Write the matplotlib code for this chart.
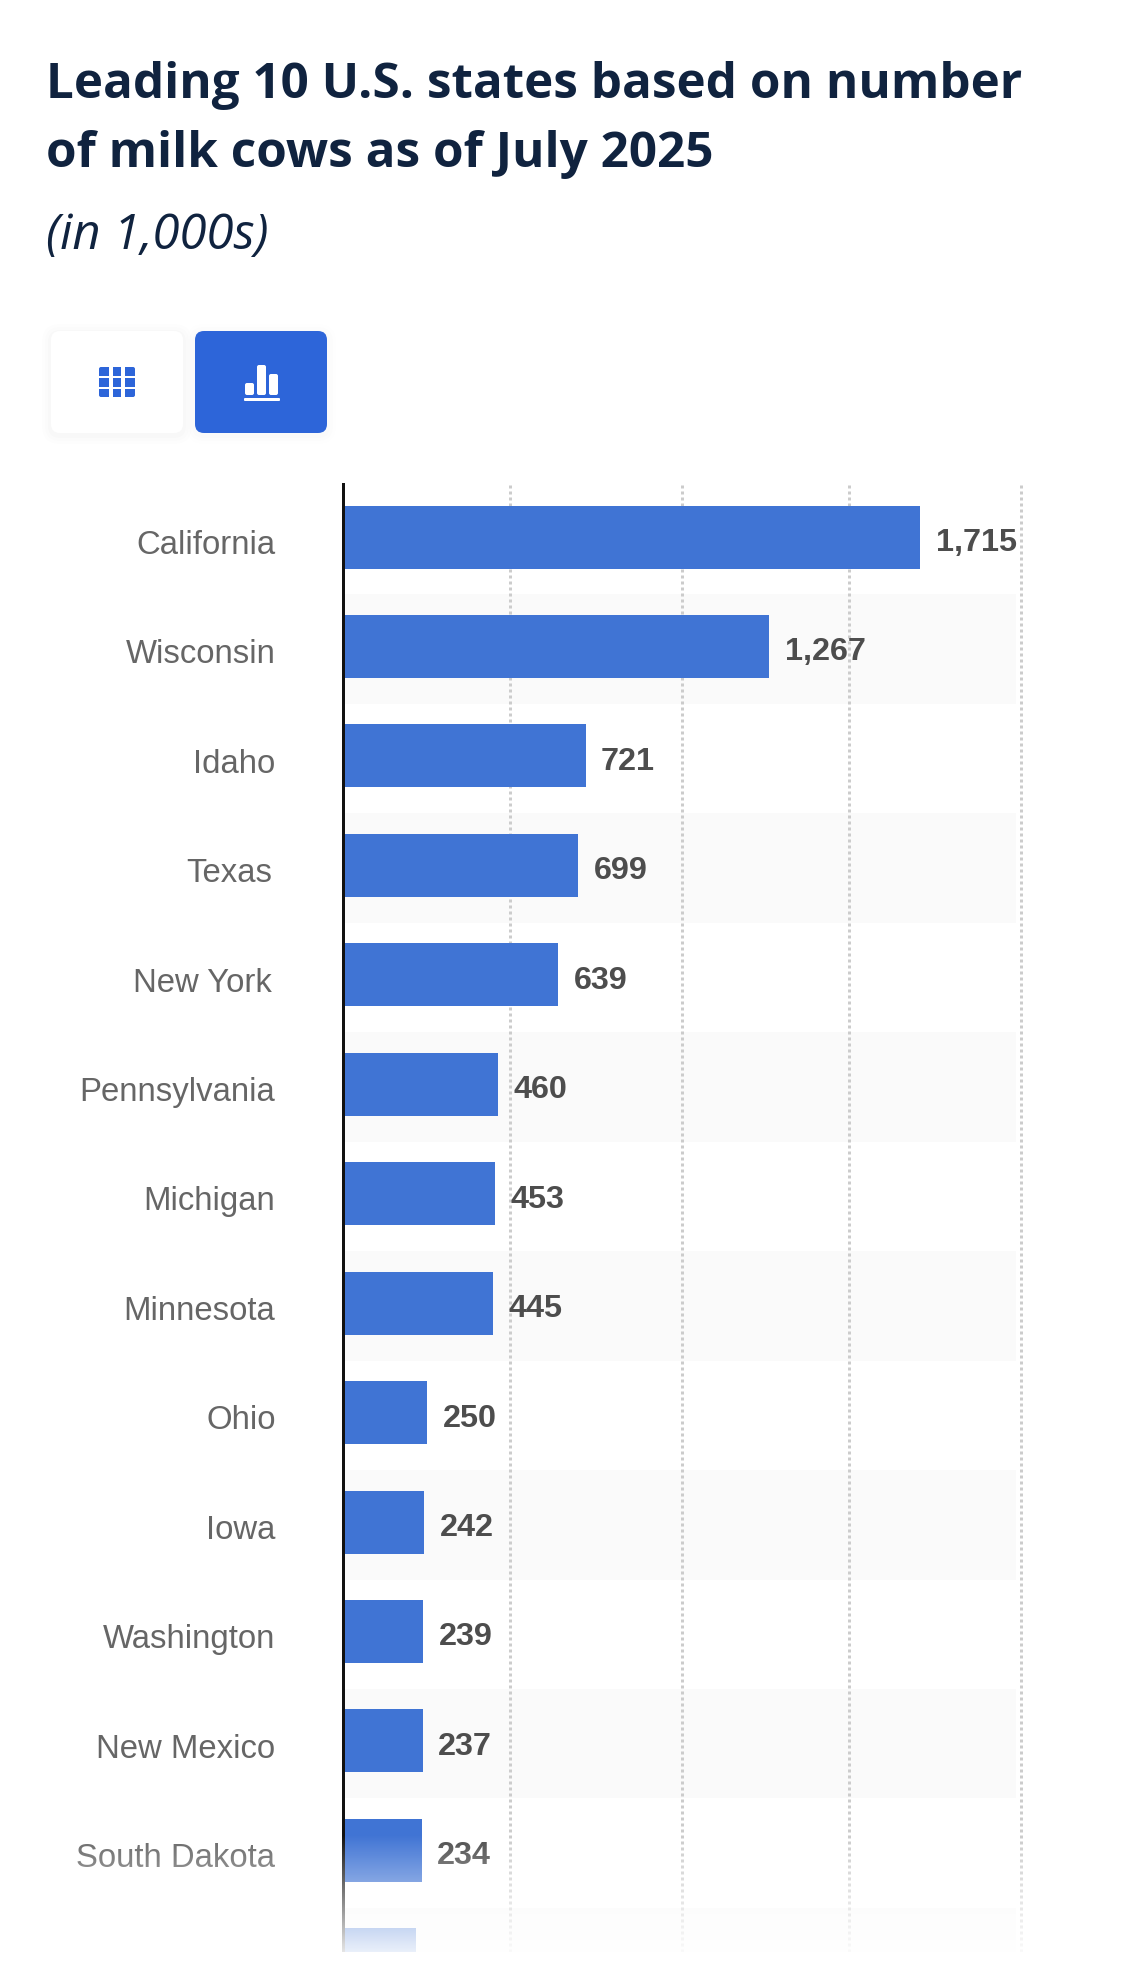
import matplotlib
matplotlib.use('Agg')
import matplotlib.pyplot as plt
import numpy as np
from matplotlib.patches import FancyBboxPatch, Rectangle

figW, figH = 1125, 1974

states = ['California', 'Wisconsin', 'Idaho', 'Texas', 'New York', 'Pennsylvania', 'Michigan',
          'Minnesota', 'Ohio', 'Iowa', 'Washington', 'New Mexico', 'South Dakota', '']
cows = [1715, 1267, 721, 699, 639, 460, 453, 445, 250, 242, 239, 237, 234, 216]
valueLabels = ['1,715', '1,267', '721', '699', '639', '460', '453', '445', '250', '242', '239', '237', '234', '216']
gridValues = [496, 1007, 1504, 2015]

barColor = '#4074d4'
buttonBlue = '#2d65d9'
pxPt = 72 / 100  # one pixel in points at dpi 100

plt.rcParams['font.family'] = ['Liberation Sans', 'DejaVu Sans']

fig = plt.figure(figsize=(figW / 100, figH / 100), dpi=100, facecolor='white')

# plot area, pixel box 343..1021 / 485..1953
rowH = 109.45
firstRow = 538
pxPerUnit = 0.3365
ax = fig.add_axes([343 / figW, 1 - 1953 / figH, 678 / figW, (1953 - 485) / figH])
ax.set_xlim(0, 678 / pxPerUnit)
ax.set_ylim((1953 - firstRow) / rowH, (485 - firstRow) / rowH)
ax.patch.set_alpha(0)

rows = np.arange(len(states))
for row in rows[1::2]:
    ax.barh(row + 0.025, 2000, height=1, color='#fafafa', zorder=0)
for g in gridValues:
    ax.axvline(g, color='#cccccc', lw=3 * pxPt, ls=(0, (1, 1)), zorder=1, clip_on=False)
ax.barh(rows, cows, height=63 / rowH, color=barColor, lw=0, zorder=2)

for row, value, lab in zip(rows, cows, valueLabels):
    ax.annotate(lab, (value, row), xytext=(15.5 * pxPt, -5 * pxPt), textcoords='offset points',
                ha='left', va='center', fontsize=23.3, fontweight='bold', color='#4d4d4d',
                annotation_clip=False, clip_on=True, zorder=3)

# Texas and New York sit a little further left in the original
for row, state in zip(rows[:-1], states[:-1]):
    dx = -71 if state in ('Texas', 'New York') else -67.5
    ax.annotate(state, (0, row), xytext=(dx * pxPt, -3.8 * pxPt), textcoords='offset points',
                ha='right', va='center_baseline', fontsize=23.7, color='#666666',
                annotation_clip=False)

ax.set_yticks([])
ax.set_xticks([])
for name in ['top', 'right', 'bottom']:
    ax.spines[name].set_visible(False)
ax.spines['left'].set_linewidth(3 * pxPt)
ax.spines['left'].set_color('#111111')

# page furniture on top, in pixel coordinates
page = fig.add_axes([0, 0, 1, 1], zorder=5)
page.set_xlim(0, figW)
page.set_ylim(figH, 0)
page.axis('off')

navy = '#10233f'
page.text(46, 98, 'Leading 10 U.S. states based on number', family='Open Sans', fontweight='bold',
          fontsize=35.6, color=navy, va='baseline')
page.text(46, 167, 'of milk cows as of July 2025', family='Open Sans', fontweight='bold',
          fontsize=35.6, color=navy, va='baseline')
page.text(46, 249, '(in 1,000s)', family='Open Sans', style='italic', fontsize=35.3, color=navy, va='baseline')


def roundBox(x, y, w, h, color, radius=9, **kw):
    page.add_patch(FancyBboxPatch((x + radius, y + radius), w - 2 * radius, h - 2 * radius,
                                  boxstyle=f'round,pad={radius},rounding_size={radius}',
                                  fc=color, ec='none', **kw))


# button shadows
for grow, alpha in [(9, 0.006), (6, 0.009), (3, 0.012)]:
    roundBox(51 - grow, 334 - grow, 132 + 2 * grow, 102 + 2 * grow, 'black', radius=9 + grow, alpha=alpha)
    roundBox(195 - grow, 334 - grow, 132 + 2 * grow, 102 + 2 * grow, 'black', radius=9 + grow, alpha=alpha * 0.7)
roundBox(51, 332, 132, 102, 'white')
roundBox(195, 332, 132, 102, buttonBlue)

# table icon
roundBox(99, 368, 36, 30, buttonBlue, radius=2)
for gx in [109, 121]:
    page.add_patch(Rectangle((gx, 366), 3.5, 34, fc='white', ec='none'))
for gy in [376.5, 387.7]:
    page.add_patch(Rectangle((97, gy), 40, 2.3, fc='white', ec='none'))

# chart icon
for bx, by, bh in [(245, 384, 12), (257, 366, 30), (269, 375, 21)]:
    roundBox(bx, by, 9, bh, 'white', radius=2)
roundBox(244, 399, 36, 3, 'white', radius=1)

# fade the bottom of the chart to white
fade = np.ones((132, 2, 4))
fade[:, :, 3] = np.linspace(0, 1, 132)[:, None]
page.imshow(fade, extent=(0, figW, 1835 + 132, 1835), aspect='auto', zorder=10)
page.add_patch(Rectangle((0, 1953), figW, figH - 1953, fc='white', ec='none', zorder=11))
page.set_xlim(0, figW)
page.set_ylim(figH, 0)

fig.savefig('out.png', dpi=100)
